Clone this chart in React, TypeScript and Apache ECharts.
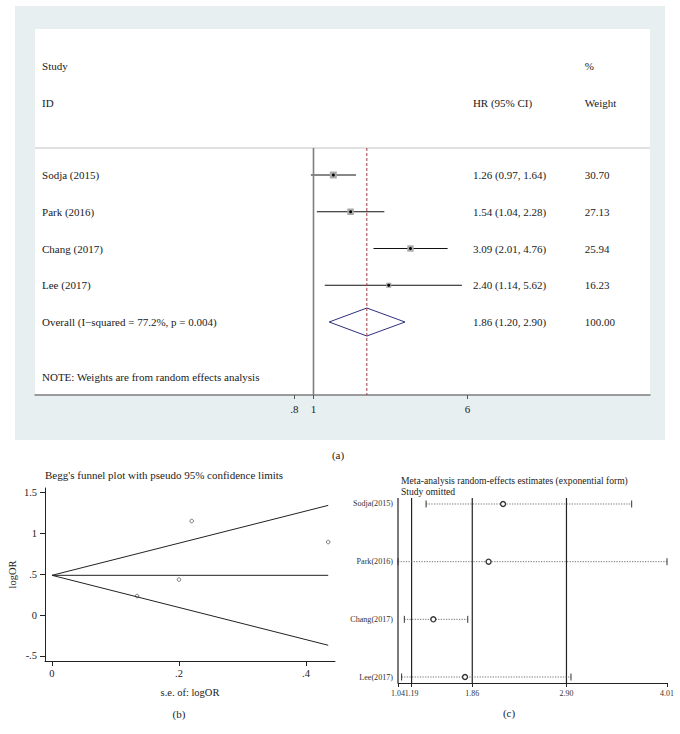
import React, { useEffect, useRef } from "react";
import * as echarts from "echarts";

const FONT = "'Liberation Serif', 'Times New Roman', serif";

// ---------- Panel (a): forest plot ----------
const studyNames = ["Sodja (2015)", "Park (2016)", "Chang (2017)", "Lee (2017)"];
const hrValues = [1.26, 1.54, 3.09, 2.4];
const hrLower = [0.97, 1.04, 2.01, 1.14];
const hrUpper = [1.64, 2.28, 4.76, 5.62];
const studyWeights = [30.7, 27.13, 25.94, 16.23];
const overallLabel = "Overall (I\u2212squared = 77.2%, p = 0.004)";
const overallHR = [1.86, 1.2, 2.9];
const overallWeight = 100.0;
const headerTop = ["Study", "", "%"];
const headerBottom = ["ID", "HR (95% CI)", "Weight"];
const noteText = "NOTE: Weights are from random effects analysis";
const forestTicks = [0.8, 1, 6];
const forestTickLabels = [".8", "1", "6"];

// ---------- Panel (b): Begg's funnel plot ----------
const funnelTitle = "Begg's funnel plot with pseudo 95% confidence limits";
const funnelSE = [0.134, 0.2, 0.22, 0.435];
const funnelLogOR = [0.231, 0.432, 1.146, 0.89];
const funnelCenter = [
  [0, 0.484],
  [0.435, 0.484],
];
const funnelUpper = [
  [0, 0.484],
  [0.435, 1.337],
];
const funnelLower = [
  [0, 0.484],
  [0.435, -0.369],
];
const funnelXTicks = [0, 0.2, 0.4];
const funnelXTickLabels = ["0", ".2", ".4"];
const funnelYTicks = [-0.5, 0, 0.5, 1, 1.5];
const funnelYTickLabels = ["-.5", "0", ".5", "1", "1.5"];

// ---------- Panel (c): sensitivity analysis ----------
const sensTitle1 = "Meta-analysis random-effects estimates (exponential form)";
const sensTitle2 = "Study omitted";
const omittedStudies = ["Sodja(2015)", "Park(2016)", "Chang(2017)", "Lee(2017)"];
const omitEstimate = [2.2, 2.04, 1.43, 1.78];
const omitLower = [1.35, 1.04, 1.11, 1.08];
const omitUpper = [3.62, 4.01, 1.81, 2.95];
const sensTicks = [1.04, 1.19, 1.86, 2.9, 4.01];
const sensRefLines = [1.04, 1.19, 1.86, 2.9];

const panelLabels = ["(a)", "(b)", "(c)"];

function tickFormatter(ticks: number[], labels: string[], tf: (v: number) => number) {
  return (v: number) => {
    const i = ticks.findIndex((t) => Math.abs(tf(t) - v) < 1e-6);
    return i >= 0 ? labels[i] : "";
  };
}

function buildOption() {
  const ln = Math.log;
  // layout constants for panel (a)
  const ROW_SEP = -0.735;
  const ROW_BOTTOM = 5.986;
  const COL_STUDY = 0.0114;
  const COL_HR = 0.712;
  const COL_W = 0.894;

  type T = { x: number; y: number; text: string };
  const texts: T[] = [];
  texts.push({ x: COL_STUDY, y: -2.966, text: headerTop[0] });
  texts.push({ x: COL_HR, y: -2.966, text: headerTop[1] });
  texts.push({ x: COL_W, y: -2.966, text: headerTop[2] });
  texts.push({ x: COL_STUDY, y: -1.959, text: headerBottom[0] });
  texts.push({ x: COL_HR, y: -1.959, text: headerBottom[1] });
  texts.push({ x: COL_W, y: -1.959, text: headerBottom[2] });
  studyNames.forEach((s, i) => {
    texts.push({ x: COL_STUDY, y: i, text: s });
    texts.push({
      x: COL_HR,
      y: i,
      text: `${hrValues[i].toFixed(2)} (${hrLower[i].toFixed(2)}, ${hrUpper[i].toFixed(2)})`,
    });
    texts.push({ x: COL_W, y: i, text: studyWeights[i].toFixed(2) });
  });
  const oRow = studyNames.length;
  texts.push({ x: COL_STUDY, y: oRow, text: overallLabel });
  texts.push({
    x: COL_HR,
    y: oRow,
    text: `${overallHR[0].toFixed(2)} (${overallHR[1].toFixed(2)}, ${overallHR[2].toFixed(2)})`,
  });
  texts.push({ x: COL_W, y: oRow, text: overallWeight.toFixed(2) });
  texts.push({ x: COL_STUDY, y: 5.497, text: noteText });

  const txtStyle = (size: number, color = "#1a1a1a", align = "left") => ({
    fontSize: size,
    fontFamily: FONT,
    fill: color,
    align,
    textAlign: align,
    verticalAlign: "middle",
    textVerticalAlign: "middle",
  });

  const sensLabelStyle = {
    fontSize: 7.9,
    color: "#333",
    margin: 6,
    fontFamily: FONT,
    hideOverlap: false,
  };

  return {
    animation: false,
    textStyle: { fontFamily: FONT },
    graphic: [
      {
        type: "rect",
        z: -10,
        shape: { x: 15, y: 6, width: 650, height: 434 },
        style: { fill: "#e8eff1" },
        silent: true,
      },
      { type: "text", x: 338, y: 455, style: { text: panelLabels[0], ...txtStyle(11, "#222", "center") } },
      { type: "text", x: 179, y: 714, style: { text: panelLabels[1], ...txtStyle(11, "#222", "center") } },
      { type: "text", x: 509, y: 713, style: { text: panelLabels[2], ...txtStyle(11, "#222", "center") } },
      { type: "text", x: 45, y: 475, style: { text: funnelTitle, ...txtStyle(11, "#222") } },
      { type: "text", x: 401, y: 480, style: { text: sensTitle1, ...txtStyle(9.6, "#222") } },
      { type: "text", x: 401, y: 491.5, style: { text: sensTitle2, ...txtStyle(9.6, "#222") } },
    ],
    grid: [
      { left: 35, right: 30, top: 29, bottom: 339, show: true, backgroundColor: "#ffffff", borderWidth: 0 },
      { left: 45, right: 345, top: 488, bottom: 73 },
      { left: 398, right: 13, top: 498, bottom: 51 },
    ],
    xAxis: [
      {
        gridIndex: 0,
        type: "value",
        min: -3.24,
        max: 3.915,
        axisLine: { show: true, onZero: false, lineStyle: { color: "#7d7d7d", width: 1.5 } },
        axisTick: {
          show: true,
          customValues: forestTicks.map(ln),
          length: 4,
          lineStyle: { color: "#555", width: 1 },
        },
        axisLabel: {
          customValues: forestTicks.map(ln),
          formatter: tickFormatter(forestTicks, forestTickLabels, ln),
          fontSize: 11,
          color: "#1a1a1a",
          margin: 8,
          fontFamily: FONT,
          hideOverlap: false,
        },
        splitLine: { show: false },
      },
      { gridIndex: 0, type: "value", min: 0, max: 1, show: false },
      {
        gridIndex: 1,
        type: "value",
        min: -0.011,
        max: 0.4457,
        name: "s.e. of: logOR",
        nameLocation: "middle",
        nameGap: 26,
        nameTextStyle: { fontSize: 10.5, color: "#222", fontFamily: FONT },
        axisLine: { show: true, onZero: false, lineStyle: { color: "#222", width: 1 } },
        axisTick: { show: true, customValues: funnelXTicks, length: 5, lineStyle: { color: "#222" } },
        axisLabel: {
          customValues: funnelXTicks,
          formatter: tickFormatter(funnelXTicks, funnelXTickLabels, (v) => v),
          fontSize: 10.5,
          color: "#222",
          margin: 7,
          fontFamily: FONT,
        },
        splitLine: { show: false },
      },
      {
        gridIndex: 2,
        type: "value",
        min: sensTicks[0],
        max: sensTicks[sensTicks.length - 1],
        axisLine: { show: true, onZero: false, lineStyle: { color: "#222", width: 1 } },
        axisTick: { show: true, customValues: sensTicks, length: 4, lineStyle: { color: "#222" } },
        axisLabel: {
          customValues: sensTicks.slice(1),
          formatter: (v: number) => v.toFixed(2),
          showMaxLabel: true,
          ...sensLabelStyle,
        },
        splitLine: { show: false },
      },
      {
        // second label layer so that the close "1.04" label is not hidden by overlap handling
        gridIndex: 2,
        type: "value",
        position: "bottom",
        min: sensTicks[0],
        max: sensTicks[sensTicks.length - 1],
        axisLine: { show: false, onZero: false },
        axisTick: { show: false },
        axisLabel: {
          customValues: sensTicks.slice(0, 1),
          formatter: (v: number) => v.toFixed(2),
          showMinLabel: true,
          ...sensLabelStyle,
        },
        splitLine: { show: false },
      },
    ],
    yAxis: [
      { gridIndex: 0, type: "value", min: -3.973, max: ROW_BOTTOM, inverse: true, show: false },
      {
        gridIndex: 1,
        type: "value",
        min: -0.561,
        max: 1.549,
        name: "logOR",
        nameLocation: "middle",
        nameRotate: 90,
        nameGap: 27,
        nameTextStyle: { fontSize: 10.5, color: "#222", fontFamily: FONT },
        axisLine: { show: true, onZero: false, lineStyle: { color: "#222", width: 1 } },
        axisTick: { show: true, customValues: funnelYTicks, length: 5, lineStyle: { color: "#222" } },
        axisLabel: {
          customValues: funnelYTicks,
          formatter: tickFormatter(funnelYTicks, funnelYTickLabels, (v) => v),
          fontSize: 10.5,
          color: "#222",
          margin: 8,
          fontFamily: FONT,
        },
        splitLine: { show: false },
      },
      {
        gridIndex: 2,
        type: "value",
        min: -0.104,
        max: 3.104,
        inverse: true,
        axisLine: { show: false },
        axisTick: { show: false },
        axisLabel: {
          customValues: omittedStudies.map((_, i) => i),
          formatter: (v: number) => omittedStudies[Math.round(v)] ?? "",
          fontSize: 8.1,
          color: "#333",
          margin: 5,
          fontFamily: FONT,
        },
        splitLine: { show: false },
      },
    ],
    series: [
      // ---- (a) reference lines
      {
        type: "line",
        xAxisIndex: 1,
        yAxisIndex: 0,
        data: [
          [0, ROW_SEP],
          [1, ROW_SEP],
        ],
        symbol: "none",
        silent: true,
        lineStyle: { color: "#c4c4c4", width: 1.2 },
      },
      {
        type: "line",
        xAxisIndex: 0,
        yAxisIndex: 0,
        data: [
          [ln(1), ROW_SEP],
          [ln(1), ROW_BOTTOM],
        ],
        symbol: "none",
        silent: true,
        lineStyle: { color: "#808080", width: 1.6 },
      },
      {
        type: "line",
        xAxisIndex: 0,
        yAxisIndex: 0,
        data: [
          [ln(overallHR[0]), ROW_SEP],
          [ln(overallHR[0]), ROW_BOTTOM],
        ],
        symbol: "none",
        silent: true,
        lineStyle: { color: "#a33a3f", width: 1, type: [3, 2] },
      },
      // ---- (a) study CIs and weight boxes
      {
        type: "custom",
        xAxisIndex: 0,
        yAxisIndex: 0,
        silent: true,
        data: hrValues.map((v, i) => [ln(v), i, ln(hrLower[i]), ln(hrUpper[i]), studyWeights[i]]),
        renderItem: (params: any, api: any) => {
          const c = api.coord([api.value(0), api.value(1)]);
          const l = api.coord([api.value(2), api.value(1)]);
          const h = api.coord([api.value(3), api.value(1)]);
          const side = 1.25 * Math.sqrt(api.value(4));
          return {
            type: "group",
            children: [
              {
                type: "line",
                shape: { x1: l[0], y1: l[1], x2: h[0], y2: h[1] },
                style: { stroke: "#111", lineWidth: 1 },
              },
              {
                type: "rect",
                shape: { x: c[0] - side / 2, y: c[1] - side / 2, width: side, height: side },
                style: { fill: "#a9a9a9" },
              },
              { type: "circle", shape: { cx: c[0], cy: c[1], r: 1.5 }, style: { fill: "#000" } },
            ],
          };
        },
      },
      // ---- (a) overall diamond
      {
        type: "custom",
        xAxisIndex: 0,
        yAxisIndex: 0,
        silent: true,
        data: [[ln(overallHR[0]), studyNames.length, ln(overallHR[1]), ln(overallHR[2])]],
        renderItem: (params: any, api: any) => {
          const c = api.coord([api.value(0), api.value(1)]);
          const l = api.coord([api.value(2), api.value(1)]);
          const h = api.coord([api.value(3), api.value(1)]);
          const hh = 14;
          return {
            type: "polygon",
            shape: {
              points: [
                [l[0], c[1]],
                [c[0], c[1] - hh],
                [h[0], c[1]],
                [c[0], c[1] + hh],
              ],
            },
            style: { fill: "none", stroke: "#2f2f80", lineWidth: 1 },
          };
        },
      },
      // ---- (a) table text
      {
        type: "custom",
        xAxisIndex: 1,
        yAxisIndex: 0,
        silent: true,
        data: texts.map((t) => [t.x, t.y]),
        renderItem: (params: any, api: any) => {
          const t = texts[params.dataIndex];
          const p = api.coord([api.value(0), api.value(1)]);
          return { type: "text", x: p[0], y: p[1], style: { text: t.text, ...txtStyle(11) } };
        },
      },
      // ---- (b) funnel
      {
        type: "line",
        xAxisIndex: 2,
        yAxisIndex: 1,
        data: funnelCenter,
        symbol: "none",
        silent: true,
        lineStyle: { color: "#222", width: 1 },
      },
      {
        type: "line",
        xAxisIndex: 2,
        yAxisIndex: 1,
        data: funnelUpper,
        symbol: "none",
        silent: true,
        lineStyle: { color: "#222", width: 1 },
      },
      {
        type: "line",
        xAxisIndex: 2,
        yAxisIndex: 1,
        data: funnelLower,
        symbol: "none",
        silent: true,
        lineStyle: { color: "#222", width: 1 },
      },
      {
        type: "scatter",
        xAxisIndex: 2,
        yAxisIndex: 1,
        data: funnelSE.map((s, i) => [s, funnelLogOR[i]]),
        symbol: "circle",
        symbolSize: 3.6,
        silent: true,
        itemStyle: { color: "#ffffff", borderColor: "#333", borderWidth: 0.8 },
      },
      // ---- (c) reference lines
      {
        type: "custom",
        xAxisIndex: 3,
        yAxisIndex: 2,
        silent: true,
        data: sensRefLines.map((v) => [v, 0]),
        renderItem: (params: any, api: any) => {
          const x = api.coord([api.value(0), 0])[0];
          const cs = params.coordSys;
          return {
            type: "line",
            shape: { x1: x, y1: cs.y, x2: x, y2: cs.y + cs.height },
            style: { stroke: "#222", lineWidth: 1.2 },
          };
        },
      },
      // ---- (c) omitted-study estimates
      {
        type: "custom",
        xAxisIndex: 3,
        yAxisIndex: 2,
        silent: true,
        data: omitEstimate.map((e, i) => [omitLower[i], e, omitUpper[i], i]),
        renderItem: (params: any, api: any) => {
          const row = api.value(3);
          const l = api.coord([api.value(0), row]);
          const e = api.coord([api.value(1), row]);
          const h = api.coord([api.value(2), row]);
          const y = e[1];
          return {
            type: "group",
            children: [
              {
                type: "line",
                shape: { x1: l[0], y1: y, x2: h[0], y2: y },
                style: { stroke: "#555", lineWidth: 0.8, lineDash: [1.3, 1.3] },
              },
              {
                type: "line",
                shape: { x1: l[0], y1: y - 3.5, x2: l[0], y2: y + 3.5 },
                style: { stroke: "#333", lineWidth: 1 },
              },
              {
                type: "line",
                shape: { x1: h[0], y1: y - 3.5, x2: h[0], y2: y + 3.5 },
                style: { stroke: "#333", lineWidth: 1 },
              },
              {
                type: "circle",
                shape: { cx: e[0], cy: y, r: 2.5 },
                style: { fill: "#fff", stroke: "#333", lineWidth: 1.4 },
              },
            ],
          };
        },
      },
    ],
  };
}

export default function App() {
  const ref = useRef<HTMLDivElement>(null);
  useEffect(() => {
    if (!ref.current) return;
    const chart = echarts.init(ref.current, null, { renderer: "svg" });
    chart.setOption(buildOption() as any);
    return () => chart.dispose();
  }, []);
  return (
    <div
      ref={ref}
      style={{ position: "fixed", left: 0, top: 0, width: 680, height: 734, background: "#ffffff" }}
    />
  );
}
